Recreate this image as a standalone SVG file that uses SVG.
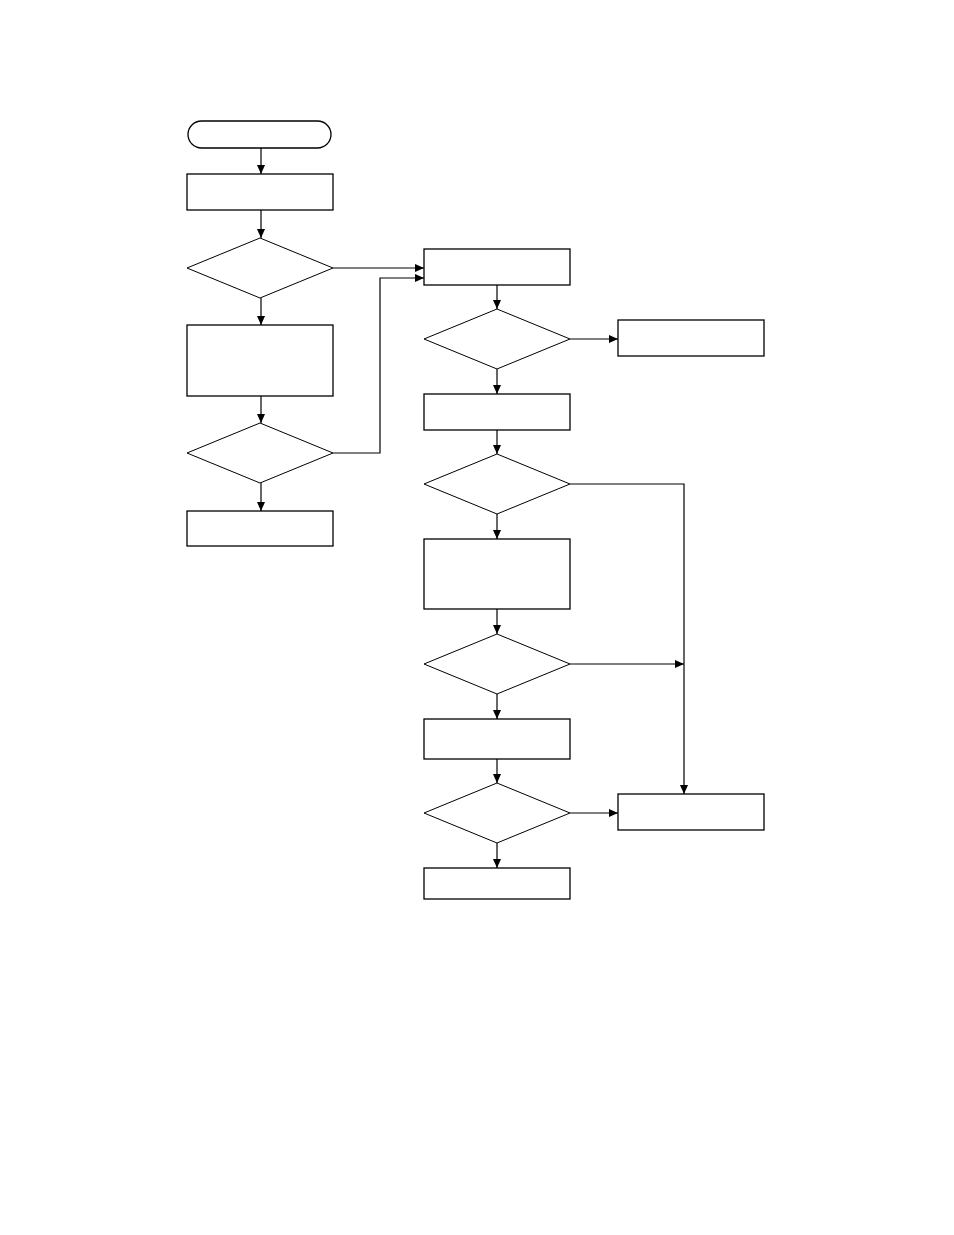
<svg xmlns="http://www.w3.org/2000/svg" width="954" height="1235" viewBox="0 0 954 1235">
<style>
.n{fill:#fff;stroke:#000;stroke-width:1.3}
.d{fill:#fff;stroke:#000;stroke-width:1}
.c{fill:none;stroke:#000;stroke-width:1.2}
</style>
<defs>
<marker id="ah" markerWidth="10" markerHeight="8" refX="9" refY="4" orient="auto" markerUnits="userSpaceOnUse">
<path d="M0,0 L9,4 L0,8 Z" fill="#000"/>
</marker>
</defs>
<rect width="954" height="1235" fill="#fff"/>
<g id="connectors">
<path class="c" d="M261,148 V174" marker-end="url(#ah)"/>
<path class="c" d="M261,210 V238" marker-end="url(#ah)"/>
<path class="c" d="M333,268 H424" marker-end="url(#ah)"/>
<path class="c" d="M261,298 V325" marker-end="url(#ah)"/>
<path class="c" d="M261,396 V423" marker-end="url(#ah)"/>
<path class="c" d="M333,453 H380 V278 H424" marker-end="url(#ah)"/>
<path class="c" d="M261,483 V511" marker-end="url(#ah)"/>
<path class="c" d="M497,285 V309" marker-end="url(#ah)"/>
<path class="c" d="M570,339 H618" marker-end="url(#ah)"/>
<path class="c" d="M497,369 V394" marker-end="url(#ah)"/>
<path class="c" d="M497,430 V454" marker-end="url(#ah)"/>
<path class="c" d="M570,484 H684 V794" marker-end="url(#ah)"/>
<path class="c" d="M497,514 V539" marker-end="url(#ah)"/>
<path class="c" d="M497,609 V634" marker-end="url(#ah)"/>
<path class="c" d="M570,664 H684" marker-end="url(#ah)"/>
<path class="c" d="M497,694 V719" marker-end="url(#ah)"/>
<path class="c" d="M497,759 V783" marker-end="url(#ah)"/>
<path class="c" d="M570,813 H618" marker-end="url(#ah)"/>
<path class="c" d="M497,843 V868" marker-end="url(#ah)"/>
</g>
<g id="start"><rect class="n" x="188" y="121" width="143" height="27" rx="13.5"/></g>
<g id="step1"><rect class="n" x="187" y="174" width="146" height="36"/></g>
<g id="dec1"><polygon class="d" points="260,238 333,268 260,298 187,268"/></g>
<g id="step2"><rect class="n" x="187" y="325" width="146" height="71"/></g>
<g id="dec2"><polygon class="d" points="260,423 333,453 260,483 187,453"/></g>
<g id="step3"><rect class="n" x="187" y="511" width="146" height="35"/></g>
<g id="stepA"><rect class="n" x="424" y="249" width="146" height="36"/></g>
<g id="decB"><polygon class="d" points="497,309 570,339 497,369 424,339"/></g>
<g id="sideB"><rect class="n" x="618" y="320" width="146" height="36"/></g>
<g id="stepC"><rect class="n" x="424" y="394" width="146" height="36"/></g>
<g id="decD"><polygon class="d" points="497,454 570,484 497,514 424,484"/></g>
<g id="stepE"><rect class="n" x="424" y="539" width="146" height="70"/></g>
<g id="decF"><polygon class="d" points="497,634 570,664 497,694 424,664"/></g>
<g id="stepG"><rect class="n" x="424" y="719" width="146" height="40"/></g>
<g id="decH"><polygon class="d" points="497,783 570,813 497,843 424,813"/></g>
<g id="sideI"><rect class="n" x="618" y="794" width="146" height="36"/></g>
<g id="stepJ"><rect class="n" x="424" y="868" width="146" height="31"/></g>
</svg>
